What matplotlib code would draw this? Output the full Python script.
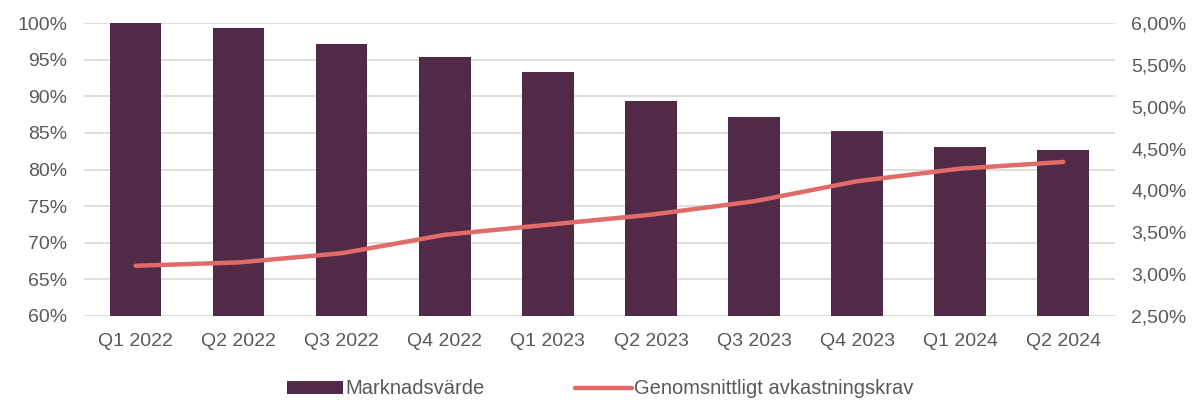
import matplotlib.pyplot as plt
from matplotlib.ticker import FuncFormatter

plt.rcParams['font.family'] = ['Liberation Sans', 'DejaVu Sans']

quarters = ['Q1 2022', 'Q2 2022', 'Q3 2022', 'Q4 2022', 'Q1 2023',
            'Q2 2023', 'Q3 2023', 'Q4 2023', 'Q1 2024', 'Q2 2024']
marknadsvarde = [100.0, 99.3, 97.1, 95.4, 93.3, 89.4, 87.2, 85.2, 83.1, 82.7]
avkastningskrav = [3.10, 3.14, 3.25, 3.47, 3.59, 3.71, 3.87, 4.11, 4.26, 4.34]

txt = '#595959'
fig, ax = plt.subplots(figsize=(12, 4), dpi=100)
fig.subplots_adjust(left=0.07, right=0.929, top=0.9425, bottom=0.21)

x = range(len(quarters))
bars = ax.bar(x, marknadsvarde, width=0.5, color='#512a48', zorder=2,
              label='Marknadsvärde')
ax.set_ylim(60, 100)
ax.set_yticks(range(60, 101, 5))
ax.yaxis.set_major_formatter(FuncFormatter(lambda v, p: '%d%%' % v))
ax.set_xlim(-0.5, len(quarters) - 0.5)
ax.set_xticks(list(x))
ax.set_xticklabels(quarters)
ax.grid(axis='y', color='#d9d9d9', linewidth=1.2, zorder=0)
ax.set_axisbelow(True)

ax2 = ax.twinx()
line, = ax2.plot(x, avkastningskrav, color='#e06b68', linewidth=3.2,
                 solid_capstyle='round', label='Genomsnittligt avkastningskrav')
ax2.set_ylim(2.5, 6.0)
ax2.set_yticks([2.5, 3.0, 3.5, 4.0, 4.5, 5.0, 5.5, 6.0])
ax2.yaxis.set_major_formatter(FuncFormatter(lambda v, p: ('%.2f%%' % v).replace('.', ',')))

for a in (ax, ax2):
    for s in a.spines.values():
        s.set_visible(False)
    a.tick_params(length=0, labelsize=14, colors=txt, pad=12)
ax.tick_params(axis='x', pad=12)

fig.legend([bars, line], ['Marknadsvärde', 'Genomsnittligt avkastningskrav'],
           loc='center', bbox_to_anchor=(0.5, 0.028), ncol=2, frameon=False,
           fontsize=14.5, labelcolor=txt, handlelength=2.8, handleheight=0.6,
           columnspacing=4.5, handletextpad=0.1)

plt.savefig('out.png')
